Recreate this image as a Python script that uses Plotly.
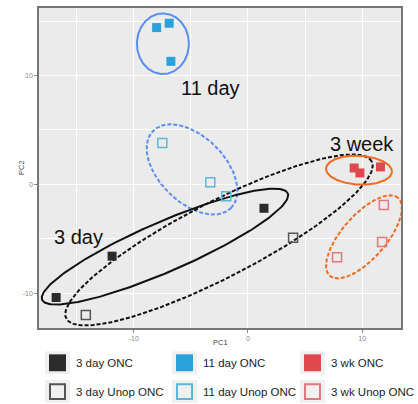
import numpy as np
import plotly.graph_objects as go

# ---------------- data ----------------
series_names = ["3 day ONC", "11 day ONC", "3 wk ONC",
                "3 day Unop ONC", "11 day Unop ONC", "3 wk Unop ONC"]

d3_onc_x = [-16.8, -11.9, 1.4]
d3_onc_y = [-10.4, -6.6, -2.2]
d11_onc_x = [-8.0, -6.9, -6.75]
d11_onc_y = [14.4, 14.8, 11.3]
w3_onc_x = [9.3, 9.8, 11.6]
w3_onc_y = [1.5, 1.05, 1.6]
d3_unop_x = [-14.2, 3.95]
d3_unop_y = [-12.0, -4.9]
d11_unop_x = [-7.5, -3.3, -1.9]
d11_unop_y = [3.8, 0.2, -1.1]
w3_unop_x = [11.9, 11.75, 7.8]
w3_unop_y = [-1.9, -5.3, -6.7]

xs = [d3_onc_x, d11_onc_x, w3_onc_x, d3_unop_x, d11_unop_x, w3_unop_x]
ys = [d3_onc_y, d11_onc_y, w3_onc_y, d3_unop_y, d11_unop_y, w3_unop_y]

x_ticks = [-10, 0, 10]
y_ticks = [-10, 0, 10]

# group labels (text, x, y)
label_text = ["11 day", "3 week", "3 day"]
label_x = [-3.25, 10.0, -14.85]
label_y = [8.85, 3.75, -4.85]

# highlight ellipses: centre (data), semi-axes (px), angle (deg), colour, dash
ell_cx = [-7.45, -4.9, -7.27, -2.54, 9.72, 10.16]
ell_cy = [12.92, 1.37, -5.72, -5.11, 1.30, -4.83]
ell_a = [26, 55, 134, 172, 33, 52]
ell_b = [30.5, 33, 25, 38, 14.5, 22]
ell_ang = [0, -45, 23.6, 27.4, -3, 49]
ell_col = ["#5b8ef0", "#5b8ef0", "#111111", "#111111", "#f26b1f", "#f26b1f"]
ell_dash = ["solid", "dash", "solid", "dash", "solid", "dash"]

# ---------------- style ----------------
fill_cols = ["#2b2b2b", "#2ba2db", "#e0484d", None, None, None]
line_cols = ["#2b2b2b", "#2ba2db", "#e0484d", "#555555", "#5cb8d8", "#e07a7c"]
symbols = ["square", "square", "square", "square-open", "square-open", "square-open"]

W, H = 418, 404
ML, MR, MT, MB = 39, 17, 6, 76
PW, PH = W - ML - MR, H - MT - MB
XR = [-18.3, 13.4]
YR = [-13.2, 16.2]
PX_X = PW / (XR[1] - XR[0])
PX_Y = PH / (YR[1] - YR[0])

fig = go.Figure()

# ellipses
t = np.linspace(0, 2 * np.pi, 241)
for cx, cy, a, b, ang, col, dash in zip(ell_cx, ell_cy, ell_a, ell_b, ell_ang, ell_col, ell_dash):
    th = np.deg2rad(ang)
    u = a * np.cos(t)
    v = b * np.sin(t)
    px = u * np.cos(th) - v * np.sin(th)
    py = u * np.sin(th) + v * np.cos(th)
    fig.add_trace(go.Scatter(x=cx + px / PX_X, y=cy + py / PX_Y, mode="lines",
                             line=dict(color=col, width=2,
                                       dash="4px,2px" if dash == "dash" else "solid"),
                             hoverinfo="skip", showlegend=False))

# points
for name, x, y, fc, lc, sym in zip(series_names, xs, ys, fill_cols, line_cols, symbols):
    if fc:
        marker = dict(symbol=sym, size=9, color=fc, line=dict(width=0))
    else:
        marker = dict(symbol=sym, size=9, color=lc, line=dict(width=1.5, color=lc))
    fig.add_trace(go.Scatter(x=x, y=y, mode="markers", name=name, marker=marker,
                             showlegend=False))


def pxx(p):
    return (p - ML) / PW


def pxy(p):
    return (MT + PH - p) / PH


annotations = []
for txt, x, y in zip(label_text, label_x, label_y):
    annotations.append(dict(x=x, y=y, xref="x", yref="y", text=txt, showarrow=False,
                            font=dict(size=20, color="#111111", family="Liberation Sans")))

# axis titles
annotations.append(dict(x=0.5, y=pxy(343), xref="paper", yref="paper",
                        text="PC1", showarrow=False, yanchor="middle",
                        font=dict(size=7.5, color="#444444", family="Liberation Sans")))
annotations.append(dict(x=pxx(21), y=0.5, xref="paper", yref="paper",
                        text="PC2", showarrow=False, textangle=-90, xanchor="center",
                        font=dict(size=7.5, color="#444444", family="Liberation Sans")))

# manual legend (ggplot-like keys)
shapes = []
key_left = [45, 172, 300]
row_cy = [363, 392]
KW, KH, IN = 25, 23, 17

for i, (name, fc, lc) in enumerate(zip(series_names, fill_cols, line_cols)):
    r, c = divmod(i, 3)
    kl = key_left[c]
    cy = row_cy[r]
    shapes.append(dict(type="rect", xref="paper", yref="paper",
                       x0=pxx(kl), x1=pxx(kl + KW), y0=pxy(cy + KH / 2), y1=pxy(cy - KH / 2),
                       fillcolor="#f0f0f0", line=dict(width=0), layer="above"))
    ix0 = kl + (KW - IN) / 2
    if fc:
        shapes.append(dict(type="rect", xref="paper", yref="paper",
                           x0=pxx(ix0), x1=pxx(ix0 + IN), y0=pxy(cy + IN / 2), y1=pxy(cy - IN / 2),
                           fillcolor=fc, line=dict(width=0), layer="above"))
    else:
        shapes.append(dict(type="rect", xref="paper", yref="paper",
                           x0=pxx(ix0 + 1), x1=pxx(ix0 + IN - 1),
                           y0=pxy(cy + IN / 2 - 1), y1=pxy(cy - IN / 2 + 1),
                           fillcolor="rgba(0,0,0,0)", line=dict(width=2, color=lc), layer="above"))
    annotations.append(dict(x=pxx(kl + KW + 4), y=pxy(cy), xref="paper", yref="paper",
                            text=name, showarrow=False, xanchor="left", yanchor="middle",
                            font=dict(size=11.5, color="#222222", family="Liberation Sans")))

axis_common = dict(showgrid=True, gridcolor="white", gridwidth=1.2, zeroline=False,
                   showline=True, mirror=True, linecolor="#777777", linewidth=1.5,
                   ticks="outside", ticklen=3, tickcolor="#888888", tickwidth=1,
                   tickfont=dict(size=7, color="#888888", family="Liberation Sans"),
                   minor=dict(dtick=5, showgrid=True, gridcolor="white", gridwidth=0.6, ticks=""))

fig.update_layout(
    width=W, height=H,
    margin=dict(l=ML, r=MR, t=MT, b=MB),
    paper_bgcolor="white", plot_bgcolor="#ebebeb",
    xaxis=dict(range=XR, tickvals=x_ticks, ticktext=[str(v) for v in x_ticks],
               tick0=0, dtick=10, **axis_common),
    yaxis=dict(range=YR, tickvals=y_ticks, ticktext=[str(v) for v in y_ticks],
               tick0=0, dtick=10, **axis_common),
    annotations=annotations,
    shapes=shapes,
    showlegend=False,
)

fig.write_html("out.html", config={"displayModeBar": False},
               post_script="document.body.style.margin='0';document.body.style.padding='0';")
